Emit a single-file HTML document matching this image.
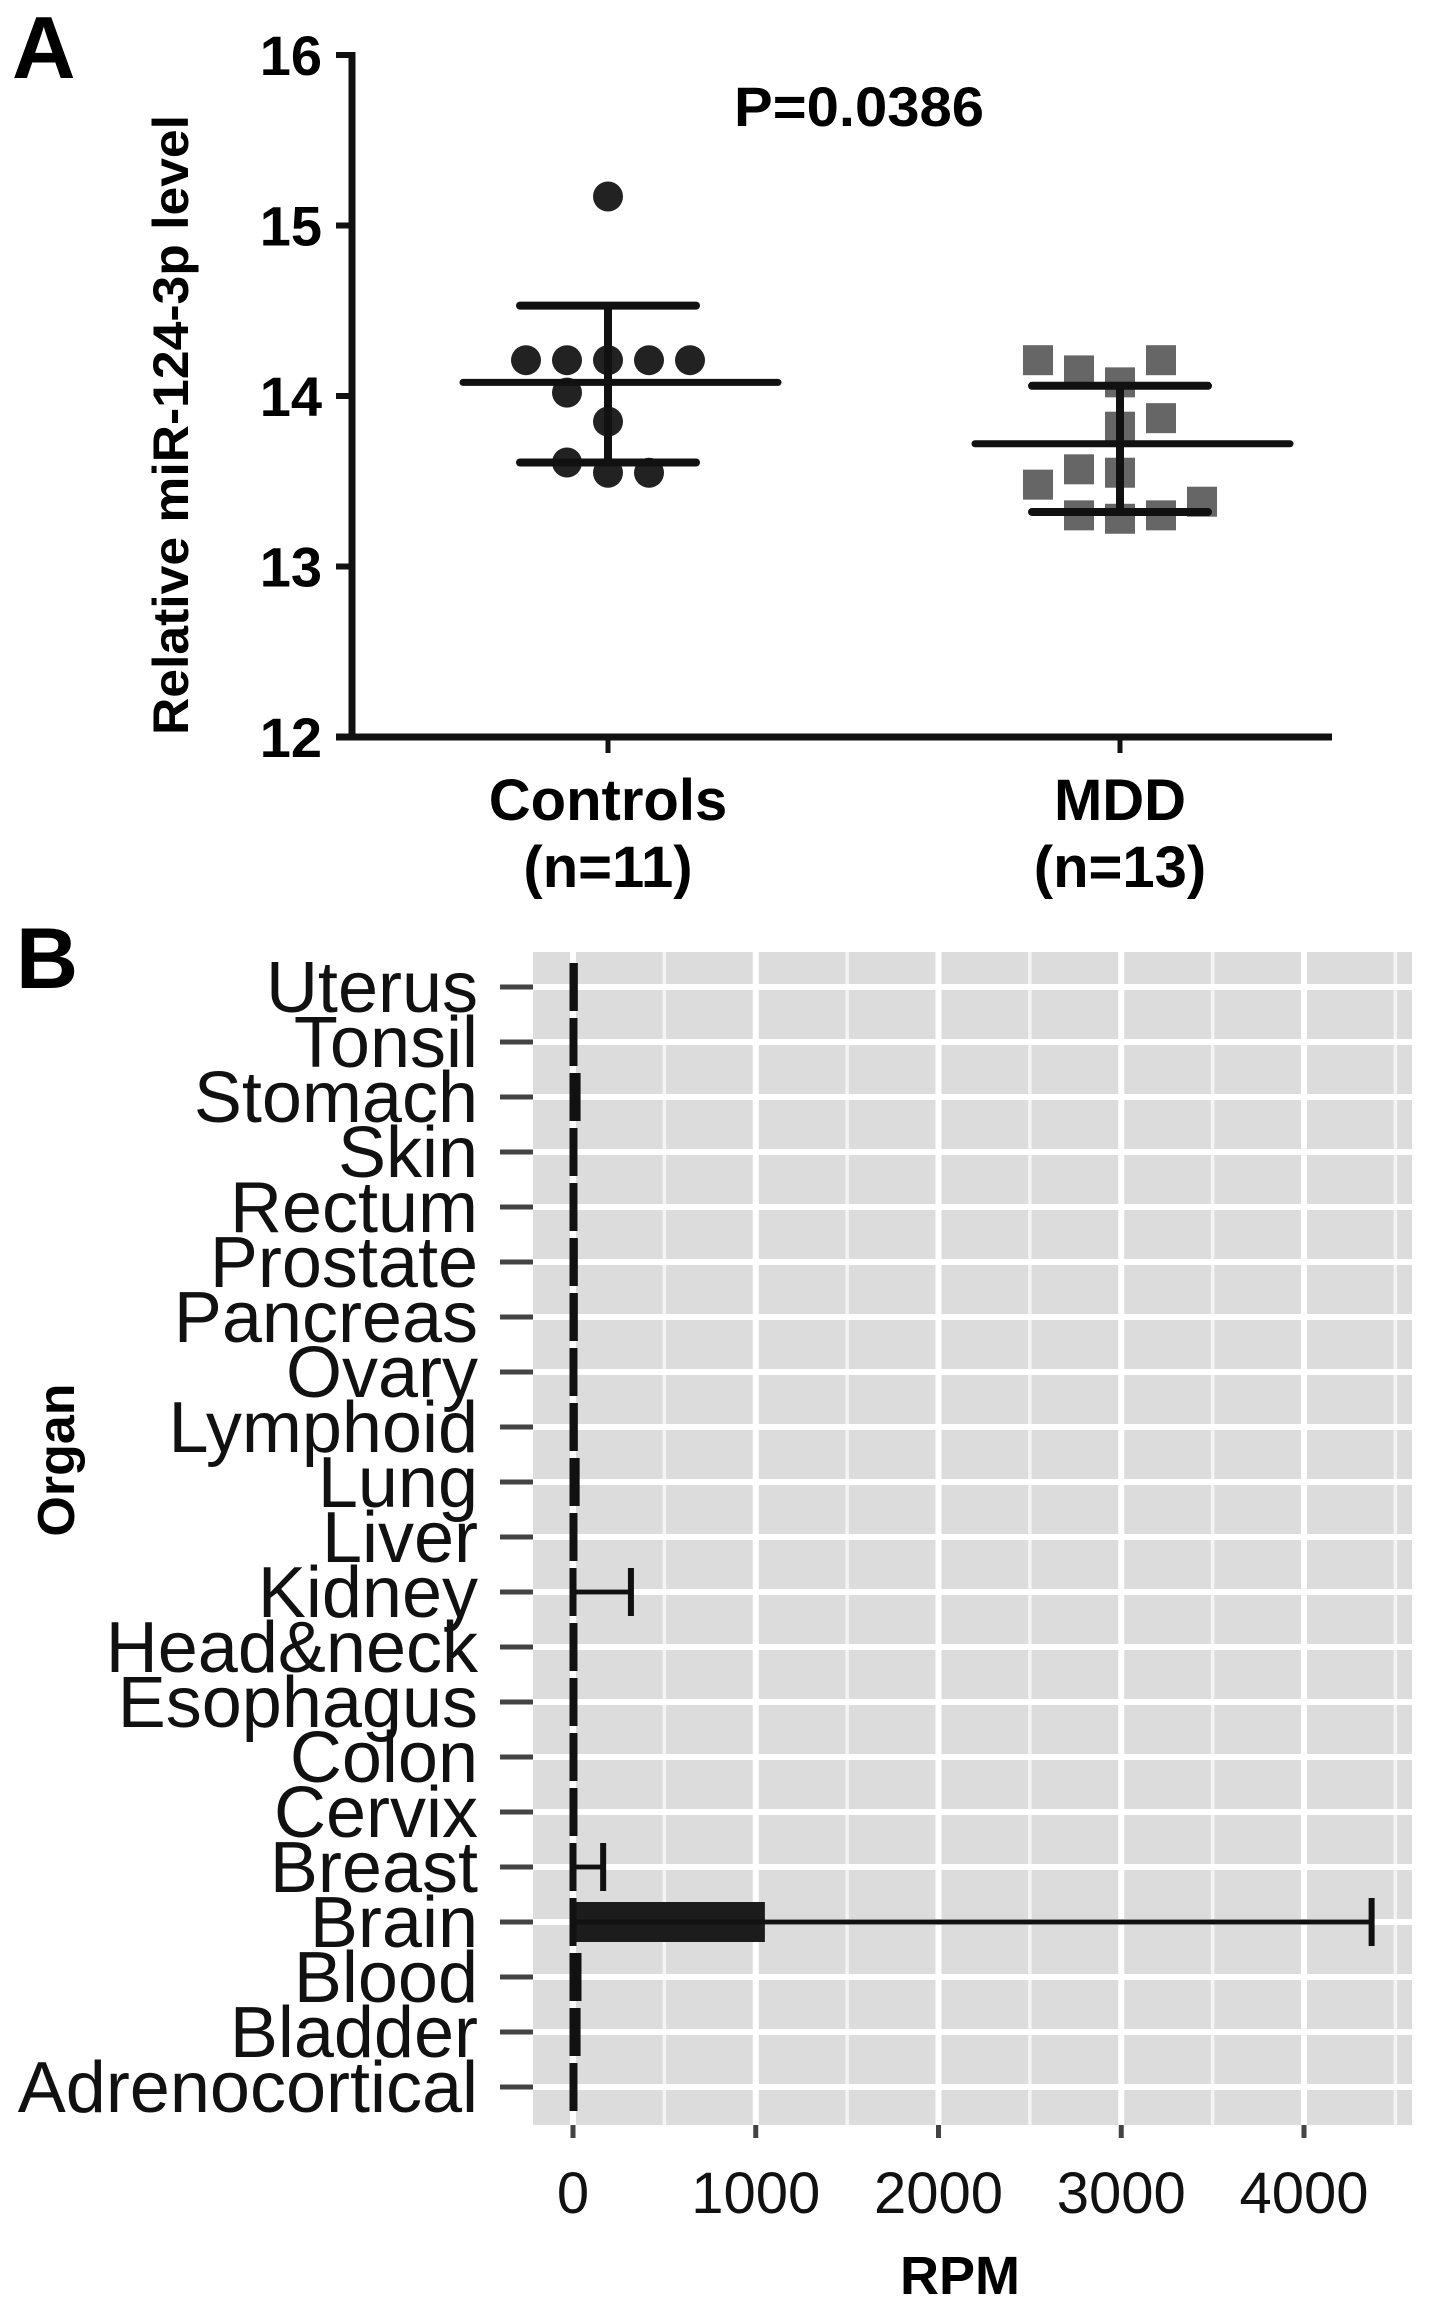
<!DOCTYPE html>
<html><head><meta charset="utf-8"><style>
html,body{margin:0;padding:0;background:#fff}
svg{display:block}
text{font-family:"Liberation Sans",Arial,sans-serif}
</style></head><body>
<svg id="fig" xmlns="http://www.w3.org/2000/svg" width="1441" height="2304" viewBox="0 0 1441 2304">
<rect width="1441" height="2304" fill="#fff"/>
<g id="panelA"></g>
<g id="panelB"></g>
</svg>
<script>
// ---- Panel A data ----
const aGroups = ["Controls", "MDD"];
const aGroupN = ["(n=11)", "(n=13)"];
const aYTicks = [12, 13, 14, 15, 16];
const ctrlValues = [15.17, 14.21, 14.21, 14.21, 14.21, 14.21, 14.02, 13.85, 13.61, 13.55, 13.55];
const ctrlSlots  = [0, -2, -1, 0, 1, 2, -1, 0, -1, 0, 1];
const mddValues = [14.21, 14.15, 14.08, 14.21, 13.87, 13.82, 13.48, 13.57, 13.55, 13.38, 13.30, 13.28, 13.30];
const mddSlots  = [-2, -1, 0, 1, 1, 0, -2, -1, 0, 2, -1, 0, 1];
const aMeans = [14.08, 13.72];
const aSdHi = [14.53, 14.06];
const aSdLo = [13.61, 13.32];
const pLabel = "P=0.0386";

// ---- Panel B data ----
const organs = ["Uterus","Tonsil","Stomach","Skin","Rectum","Prostate","Pancreas","Ovary","Lymphoid","Lung","Liver","Kidney","Head&neck","Esophagus","Colon","Cervix","Breast","Brain","Blood","Bladder","Adrenocortical"];
const rpmMean = [8, 6, 20, 6, 6, 8, 8, 6, 8, 15, 6, 10, 6, 6, 6, 6, 8, 1050, 25, 20, 6];
const rpmErr  = [10, 8, 25, 8, 8, 10, 10, 8, 10, 20, 8, 317, 8, 8, 8, 8, 165, 4370, 30, 25, 8];
const bTicks = [0, 1000, 2000, 3000, 4000];
const bMinor = [500, 1500, 2500, 3500, 4500];

const NS = "http://www.w3.org/2000/svg";
function mk(parent, tag, attrs, txt){
  const e = document.createElementNS(NS, tag);
  for (const k in attrs) e.setAttribute(k, attrs[k]);
  if (txt !== undefined) e.textContent = txt;
  parent.appendChild(e);
  return e;
}

// ---- Panel A ----
const A = document.getElementById('panelA');
const yA = v => 55 + (16 - v) * 170.5;
const xA = [608, 1120];
const slotW = 41;
let t;
t = mk(A, 'text', {x: 12, y: 78, 'font-size': 88, 'font-weight': 'bold'}, 'A');


let ln = mk(A, 'line', {x1: 352, y1: 52, x2: 352, y2: yA(12), stroke: '#111', 'stroke-width': 7});


ln = mk(A, 'line', {x1: 336, y1: yA(12), x2: 1332, y2: yA(12), stroke: '#111', 'stroke-width': 7});


aYTicks.forEach(v => {
  const tk = mk(A, 'line', {x1: 336, y1: yA(v), x2: 352, y2: yA(v), stroke: '#111', 'stroke-width': 6});
  
  
  const tl = mk(A, 'text', {x: 322, y: yA(v) + 20, 'font-size': 56, 'font-weight': 'bold', 'text-anchor': 'end'}, String(v));
  
  
});
t = mk(A, 'text', {x: 0, y: 0, 'font-size': 50, 'font-weight': 'bold', 'text-anchor': 'middle', textLength: 620, lengthAdjust: 'spacingAndGlyphs', transform: 'translate(188,425) rotate(-90)'}, 'Relative miR-124-3p level');


t = mk(A, 'text', {x: 859, y: 126, 'font-size': 56, 'font-weight': 'bold', 'text-anchor': 'middle', textLength: 250, lengthAdjust: 'spacingAndGlyphs'}, pLabel);


aGroups.forEach((g, i) => {
  const tk = mk(A, 'line', {x1: xA[i], y1: yA(12), x2: xA[i], y2: yA(12) + 16, stroke: '#111', 'stroke-width': 5});
  
  
  const l1 = mk(A, 'text', {x: xA[i], y: 820, 'font-size': 58, 'font-weight': 'bold', 'text-anchor': 'middle'}, g);
  
  
  const l2 = mk(A, 'text', {x: xA[i], y: 887, 'font-size': 58, 'font-weight': 'bold', 'text-anchor': 'middle'}, aGroupN[i]);
  
  
});
ctrlValues.forEach((v, i) => {
  const c = mk(A, 'circle', {cx: xA[0] + ctrlSlots[i] * slotW, cy: yA(v), r: 15, fill: '#222'});
  
  
});
mddValues.forEach((v, i) => {
  const s = mk(A, 'rect', {x: xA[1] + mddSlots[i] * slotW - 15, y: yA(v) - 15, width: 30, height: 30, fill: '#666'});
  
  
});
aGroups.forEach((g, i) => {
  const x = xA[i];
  let e = mk(A, 'line', {x1: x - 145, y1: yA(aMeans[i]), x2: x + 170, y2: yA(aMeans[i]), stroke: '#111', 'stroke-width': 7, 'stroke-linecap': 'round'});
  
  
  e = mk(A, 'line', {x1: x, y1: yA(aSdHi[i]), x2: x, y2: yA(aSdLo[i]), stroke: '#111', 'stroke-width': 8});
  
  
  e = mk(A, 'line', {x1: x - 88, y1: yA(aSdHi[i]), x2: x + 88, y2: yA(aSdHi[i]), stroke: '#111', 'stroke-width': 8, 'stroke-linecap': 'round'});
  
  
  e = mk(A, 'line', {x1: x - 88, y1: yA(aSdLo[i]), x2: x + 88, y2: yA(aSdLo[i]), stroke: '#111', 'stroke-width': 8, 'stroke-linecap': 'round'});
  
  
});

// ---- Panel B ----
const B = document.getElementById('panelB');
const xB = v => 573 + v * 0.18275;
const yB = i => 987 + i * 55;
const pL = 533, pR = 1412, pT = 952, pB = 2125;
t = mk(B, 'text', {x: 16, y: 988, 'font-size': 86, 'font-weight': 'bold'}, 'B');


let bg = mk(B, 'rect', {x: pL, y: pT, width: pR - pL, height: pB - pT, fill: '#dcdcdc'});


bMinor.forEach(v => {
  if (xB(v) > pR) return;
  const g = mk(B, 'line', {x1: xB(v), y1: pT, x2: xB(v), y2: pB, stroke: '#f4f4f4', 'stroke-width': 3.5});
  
  
});
bTicks.forEach(v => {
  const g = mk(B, 'line', {x1: xB(v), y1: pT, x2: xB(v), y2: pB, stroke: '#fff', 'stroke-width': 6});
  
  
  const tk = mk(B, 'line', {x1: xB(v), y1: pB, x2: xB(v), y2: pB + 13, stroke: '#444', 'stroke-width': 5});
  
  
  const tl = mk(B, 'text', {x: xB(v), y: 2213, 'font-size': 58, 'text-anchor': 'middle', fill: '#111'}, String(v));
  
  
});
organs.forEach((o, i) => {
  const g = mk(B, 'line', {x1: pL, y1: yB(i), x2: pR, y2: yB(i), stroke: '#fff', 'stroke-width': 6});
  
  
  const tk = mk(B, 'line', {x1: 500, y1: yB(i), x2: pL, y2: yB(i), stroke: '#444', 'stroke-width': 5});
  
  
  const tl = mk(B, 'text', {x: 478, y: yB(i) + 25, 'font-size': 72, 'text-anchor': 'end', fill: '#111'}, o);
  
  
});
organs.forEach((o, i) => {
  const y = yB(i);
  const bar = mk(B, 'rect', {x: xB(0), y: y - 20, width: Math.max(xB(rpmMean[i]) - xB(0), 1), height: 40, fill: '#1c1c1c'});
  
  
  const x0 = xB(0), x1 = xB(rpmErr[i]);
  let e = mk(B, 'line', {x1: x0, y1: y - 24, x2: x0, y2: y + 24, stroke: '#111', 'stroke-width': 7});
  
  
  e = mk(B, 'line', {x1: x0, y1: y, x2: x1, y2: y, stroke: '#111', 'stroke-width': 5});
  
  
  e = mk(B, 'line', {x1: x1, y1: y - 24, x2: x1, y2: y + 24, stroke: '#111', 'stroke-width': 6});
  
  
});
t = mk(B, 'text', {x: 960, y: 2294, 'font-size': 54, 'font-weight': 'bold', 'text-anchor': 'middle'}, 'RPM');


t = mk(B, 'text', {x: 0, y: 0, 'font-size': 52, 'font-weight': 'bold', 'text-anchor': 'middle', transform: 'translate(74,1460) rotate(-90)'}, 'Organ');


</script>
</body></html>
